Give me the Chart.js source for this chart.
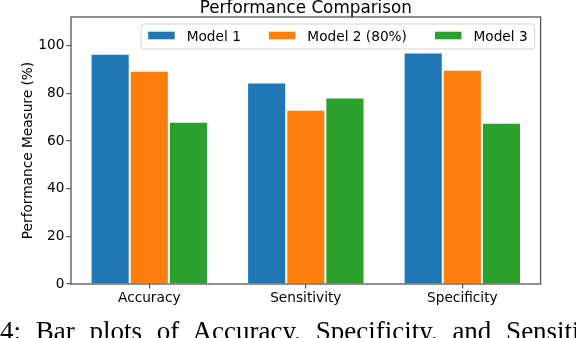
<!DOCTYPE html>
<html>
<head>
<meta charset="utf-8">
<script src="https://cdn.jsdelivr.net/npm/chart.js@4"></script>
<style>
    body { margin: 0; background: #fff; }
    #wrap { position: relative; width: 576px; height: 338px; overflow: hidden; background: #fff; }
    #caption {
        position: absolute; left: 0; top: 318px;
        font-family: "Liberation Serif", serif; font-size: 27px; line-height: 27px;
        white-space: nowrap; word-spacing: 8px; color: #000;
    }
</style>
</head>
<body>
<div id="wrap">
    <canvas id="perfChart" width="576" height="338"></canvas>
    <div id="caption">4: Bar plots of Accuracy, Specificity, and Sensitivity</div>
</div>
<script>
// valeurs
let categories = ['Accuracy', 'Sensitivity', 'Specificity'];
let seriesNames = ['Model 1', 'Model 2 (80%)', 'Model 3'];
let model1 = [96.6, 84.5, 97.1];
let model2 = [89.5, 73.1, 89.9];
let model3 = [68.1, 78.2, 67.6];
let yTicks = [0, 20, 40, 60, 80, 100];

let colors = ['#1f77b4', '#ff7f0e', '#2ca02c'];
let axisColor = '#555555';
let fontFamily = '"DejaVu Sans", sans-serif';

// cadre, titre et légende dans la zone du graphique
const framePlugin = {
    id: 'frame',
    afterDraw(chart) {
        const ctx = chart.ctx;
        const a = chart.chartArea;
        ctx.save();
        ctx.strokeStyle = axisColor;
        ctx.lineWidth = 1.3;
        ctx.strokeRect(a.left, a.top, a.right - a.left, a.bottom - a.top);

        ctx.fillStyle = '#000';
        ctx.font = '16.8px ' + fontFamily;
        ctx.textAlign = 'center';
        ctx.textBaseline = 'alphabetic';
        ctx.fillText('Performance Comparison', (a.left + a.right) / 2, 13.3);

        // légende
        ctx.font = '13.7px ' + fontFamily;
        let pad = 7, handleLen = 26.5, textPad = 12, colSpace = 28;
        let sets = chart.data.datasets;
        let widths = sets.map(ds => ctx.measureText(ds.label).width);
        let boxW = pad * 2 + colSpace * (sets.length - 1);
        widths.forEach(w => boxW += handleLen + textPad + w);
        let boxRight = a.right - 6;
        let boxLeft = boxRight - boxW;
        let boxTop = 24, boxH = 25;

        ctx.beginPath();
        ctx.roundRect(boxLeft, boxTop, boxW, boxH, 3);
        ctx.fillStyle = 'rgba(255,255,255,0.8)';
        ctx.fill();
        ctx.strokeStyle = '#d6d6d6';
        ctx.lineWidth = 1;
        ctx.stroke();

        let x = boxLeft + pad;
        ctx.textAlign = 'left';
        sets.forEach((ds, i) => {
            ctx.fillStyle = ds.backgroundColor;
            ctx.fillRect(x, 31.7, handleLen, 7.6);
            x += handleLen + textPad;
            ctx.fillStyle = '#000';
            ctx.fillText(ds.label, x, 40.6);
            x += widths[i] + colSpace;
        });
        ctx.restore();
    }
};

let chart = new Chart(document.getElementById('perfChart'), {
    type: 'bar',
    data: {
        labels: categories,
        datasets: [model1, model2, model3].map((values, i) => ({
            label: seriesNames[i],
            data: values,
            backgroundColor: colors[i],
            borderColor: '#ffffff',
            borderWidth: 1,
            categoryPercentage: 0.75,
            barPercentage: 1.0
        }))
    },
    options: {
        responsive: false,
        animation: false,
        layout: { padding: { top: 17, right: 35.4, left: 0, bottom: 0 } },
        plugins: {
            legend: { display: false },
            title: { display: false },
            tooltip: { enabled: false }
        },
        scales: {
            x: {
                offset: true,
                grid: {
                    offset: false, drawOnChartArea: false, drawTicks: true,
                    tickLength: 4.5, color: axisColor, lineWidth: 1.2
                },
                border: { display: false },
                ticks: { color: '#000', font: { family: fontFamily, size: 13.7 }, padding: 2 },
                afterFit(scale) { scale.height = 54; }
            },
            y: {
                min: 0,
                max: 112,
                grid: {
                    drawOnChartArea: false, drawTicks: true,
                    tickLength: 4.5, color: axisColor, lineWidth: 1.2
                },
                border: { display: false },
                ticks: { color: '#000', font: { family: fontFamily, size: 13.7 }, padding: 2 },
                afterBuildTicks(scale) {
                    scale.ticks = yTicks.map(v => ({ value: v }));
                },
                title: {
                    display: true,
                    text: 'Performance Measure (%)',
                    color: '#000',
                    font: { family: fontFamily, size: 13.7 },
                    padding: { top: 20, bottom: 0 }
                },
                afterFit(scale) { scale.width = 71; }
            }
        }
    },
    plugins: [framePlugin]
});
</script>
</body>
</html>
